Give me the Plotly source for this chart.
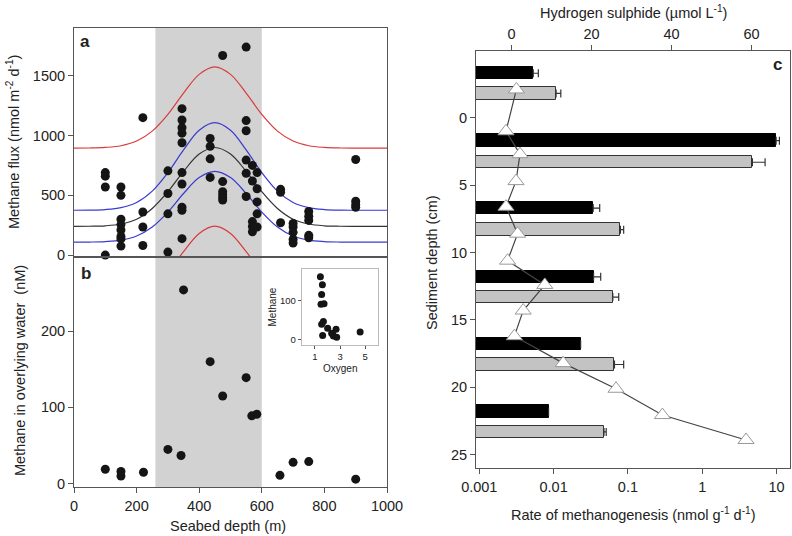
import plotly.graph_objects as go

# ---------------- Panel a: methane flux vs seabed depth ----------------
flux_depth = ([100]*4 + [150]*8 + [220]*4 + [300]*4 + [345]*10 + [435]*4 +
              [475]*6 + [550]*6 + [570]*5 + [585]*5 + [660]*3 + [700]*5 +
              [750]*5 + [900]*4)
flux_value = [690, 660, 570, 0,
              570, 500, 300, 255, 210, 155, 135, 75,
              1150, 360, 235, 80,
              705, 515, 345, 25,
              1225, 1130, 1065, 1020, 940, 690, 595, 400, 375, 137,
              975, 910, 805, 650,
              1670, 615, 530, 505, 480, 460,
              1740, 1125, 1040, 795, 685, 490,
              750, 620, 280, 240, 195,
              690, 555, 445, 345, 235,
              550, 525, 270,
              265, 235, 190, 130, 100,
              365, 325, 290, 165, 145,
              800, 450, 420, 400]

curve_x = [0, 50, 100, 150, 200, 250, 300, 350, 400, 450, 500, 550, 600,
           650, 700, 750, 800, 850, 900, 950, 1000]
fit_mid = [240, 241, 245, 260, 300, 390, 530, 700, 845, 900, 845, 700, 530,
           390, 300, 260, 245, 241, 240, 240, 240]
ci_upper = [375, 376, 381, 397, 440, 535, 690, 880, 1045, 1108, 1045, 880, 690,
            535, 440, 397, 381, 376, 375, 375, 375]
ci_lower = [108, 109, 113, 125, 160, 235, 360, 515, 648, 700, 648, 515, 360,
            235, 160, 125, 113, 109, 108, 108, 108]
pi_upper = [895, 896, 901, 915, 954, 1037, 1177, 1355, 1512, 1575, 1512, 1355, 1177,
            1037, 954, 915, 901, 896, 895, 895, 895]
pi_lower = [-415, -414, -410, -396, -358, -278, -143, 29, 181, 242, 181, 29, -143,
            -278, -358, -396, -410, -414, -415, -415, -415]

# ---------------- Panel b: methane in overlying water ----------------
water_depth = [100, 150, 150, 222, 300, 342, 350, 435, 475, 550, 568, 584, 658, 700, 750, 900]
water_methane = [19, 16, 10, 15, 45, 37, 254, 160, 115, 139, 89, 91, 11, 28, 29, 6]

# inset: methane vs oxygen
inset_oxygen = [1.43, 1.59, 1.53, 1.48, 1.72, 1.67, 1.53, 1.61, 2.01, 2.33, 2.47, 2.68, 2.73, 4.6, 2.4]
inset_methane = [161, 141, 116, 91, 92, 47, 40, 11, 30, 17, 10, 27, 7, 20, 15]

# ---------------- Panel c: methanogenesis & sulphide profiles ----------------
black_depth = [-3.3, 1.7, 6.7, 11.8, 16.8, 21.8]
black_rate = [0.00443, 9.85, 0.0332, 0.0336, 0.0222, 0.00766]
black_err = [0.0009, 1.05, 0.0076, 0.0085, 0, 0]
gray_depth = [-1.8, 3.3, 8.3, 13.3, 18.3, 23.3]
gray_rate = [0.0099, 4.72, 0.0783, 0.0617, 0.065, 0.0467]
gray_err = [0.0017, 2.28, 0.0084, 0.0126, 0.0217, 0.0034]

h2s_depth = [-2.1, 1.0, 2.7, 4.7, 6.6, 8.6, 10.6, 12.4, 14.3, 16.2, 18.2, 20.1, 22.05, 23.9]
h2s_value = [1.2, -1.4, 2.1, 1.1, -1.4, 1.5, -1.0, 8.3, 2.9, 0.7, 12.9, 26.1, 37.7, 58.6]

rate_ticks = [0.001, 0.01, 0.1, 1, 10]
rate_ticktext = ["0.001", "0.01", "0.1", "1", "10"]

FONT = "Liberation Sans, Arial, sans-serif"
TXT = "#222222"
AX = "#555555"
FS = 14.5

fig = go.Figure()

# panel a curves
def curve(y, color, name):
    fig.add_trace(go.Scatter(x=curve_x, y=y, mode="lines", line=dict(color=color, width=1.2, shape="spline"),
                             xaxis="x", yaxis="y", showlegend=False, name=name, hoverinfo="skip"))

curve(pi_upper, "#d93b3b", "pi_up")
curve(pi_lower, "#d93b3b", "pi_lo")
curve(ci_upper, "#3a3ad0", "ci_up")
curve(ci_lower, "#3a3ad0", "ci_lo")
curve(fit_mid, "#333333", "fit")

fig.add_trace(go.Scatter(x=flux_depth, y=flux_value, mode="markers",
                         marker=dict(color="#151515", size=9), xaxis="x", yaxis="y",
                         showlegend=False, cliponaxis=False))

# panel b
fig.add_trace(go.Scatter(x=water_depth, y=water_methane, mode="markers",
                         marker=dict(color="#151515", size=9), xaxis="x2", yaxis="y2",
                         showlegend=False, cliponaxis=False))

# inset
fig.add_trace(go.Scatter(x=inset_oxygen, y=inset_methane, mode="markers",
                         marker=dict(color="#151515", size=7), xaxis="x5", yaxis="y5",
                         showlegend=False))

# panel c bars
fig.add_trace(go.Bar(y=black_depth, x=black_rate, orientation="h", base=0.0009,
                     marker=dict(color="#000000", line=dict(color="#000000", width=1)),
                     width=0.92, xaxis="x3", yaxis="y3", showlegend=False,
                     error_x=dict(type="data", array=black_err, arrayminus=[0]*6, symmetric=False,
                                  color="#333333", thickness=1.2, width=4)))
fig.add_trace(go.Bar(y=gray_depth, x=gray_rate, orientation="h", base=0.0009,
                     marker=dict(color="#c3c3c3", line=dict(color="#333333", width=1)),
                     width=0.92, xaxis="x3", yaxis="y3", showlegend=False,
                     error_x=dict(type="data", array=gray_err, arrayminus=[0]*6, symmetric=False,
                                  color="#333333", thickness=1.2, width=4)))

# H2S profile
fig.add_trace(go.Scatter(x=h2s_value, y=h2s_depth, mode="lines+markers",
                         line=dict(color="#444444", width=1.2),
                         marker=dict(symbol="triangle-up", size=14, color="white",
                                     line=dict(color="#999999", width=1)),
                         xaxis="x4", yaxis="y3", showlegend=False, cliponaxis=False))

W, H = 792, 536
def px_x(a, b):
    return [a / W, b / W]
def px_y(top, bottom):
    return [1 - bottom / H, 1 - top / H]

common = dict(showline=True, linecolor=AX, linewidth=1, mirror=True, showgrid=False,
              zeroline=False, ticks="outside", ticklen=5, tickcolor=AX, automargin=False,
              tickfont=dict(family=FONT, size=FS, color=TXT))

layout = dict(
    width=W, height=H, margin=dict(l=0, r=0, t=0, b=0, pad=0, autoexpand=False),
    paper_bgcolor="white", plot_bgcolor="rgba(0,0,0,0)",
    font=dict(family=FONT, size=FS, color=TXT),
    bargap=0, barmode="overlay",
    xaxis=dict(common, domain=px_x(74, 387), anchor="y", range=[0, 1000],
               showticklabels=False, ticks=""),
    yaxis=dict(common, domain=px_y(28, 256.5), anchor="x", range=[-12, 1900],
               tickvals=[0, 500, 1000, 1500]),
    xaxis2=dict(common, domain=px_x(74, 387), anchor="y2", range=[0, 1000],
                tickvals=[0, 200, 400, 600, 800, 1000]),
    yaxis2=dict(common, domain=px_y(256.5, 487.3), anchor="x2", range=[-4.7, 297.8],
                tickvals=[0, 100, 200]),
    xaxis3=dict(common, domain=px_x(476, 790), anchor="y3", type="log",
                range=[-3.044, 1.18], tickvals=rate_ticks, ticktext=rate_ticktext, mirror=False),
    xaxis4=dict(common, domain=px_x(476, 790), anchor="y3", overlaying="x3", side="top",
                range=[-8.9, 69.6], tickvals=[0, 20, 40, 60], mirror=False),
    yaxis3=dict(common, domain=px_y(51, 468.3), anchor="x3", range=[26, -4.95],
                tickvals=[0, 5, 10, 15, 20, 25]),
    xaxis5=dict(common, domain=px_x(301.7, 377.7), anchor="y5", range=[-0.06, 6.0],
                tickvals=[1, 3, 5], linecolor="#bbbbbb", ticklen=3,
                tickfont=dict(family=FONT, size=9.5, color=TXT)),
    yaxis5=dict(common, domain=px_y(269, 345), anchor="x5", range=[-13, 181],
                tickvals=[0, 100], linecolor="#bbbbbb", ticklen=3,
                tickfont=dict(family=FONT, size=9.5, color=TXT)),
)
fig.update_layout(**layout)

# grey seep zone shading across panels a and b
fig.add_shape(type="rect", xref="x", yref="paper", x0=260, x1=600,
              y0=1 - 487.3 / H, y1=1 - 28 / H, fillcolor="#d2d2d2",
              line=dict(width=0), layer="below")
# white inset background
fig.add_shape(type="rect", xref="paper", yref="paper", x0=301.7 / W, x1=377.7 / W,
              y0=1 - 345 / H, y1=1 - 269 / H, fillcolor="white",
              line=dict(width=0), layer="below")

def ann(text, x, y, size=FS, angle=0, bold=False):
    fig.add_annotation(text=("<b>%s</b>" % text) if bold else text, x=x / W, y=1 - y / H,
                       xref="paper", yref="paper", showarrow=False, textangle=angle,
                       font=dict(family=FONT, size=size, color=TXT),
                       xanchor="center", yanchor="middle")

ann("Methane flux (nmol m<sup>-2</sup> d<sup>-1</sup>)", 13, 142, angle=-90)
ann("Methane in overlying water  (nM)", 20, 371, angle=-90)
ann("Seabed depth (m)", 228, 526)
ann("Rate of methanogenesis (nmol g<sup>-1</sup> d<sup>-1</sup>)", 633, 514)
ann("Hydrogen sulphide (µmol L<sup>-1</sup>)", 633, 12)
ann("Sediment depth (cm)", 432, 262, angle=-90)
ann("Methane", 271.5, 307, size=10, angle=-90)
ann("Oxygen", 340, 368, size=10)
ann("a", 85, 41, size=17, bold=True)
ann("b", 86, 273, size=17, bold=True)
ann("c", 777, 64, size=17, bold=True)

fig.write_html("out.html", config={"displayModeBar": False},
               post_script="document.body.style.margin='0';document.body.style.overflow='hidden';")
